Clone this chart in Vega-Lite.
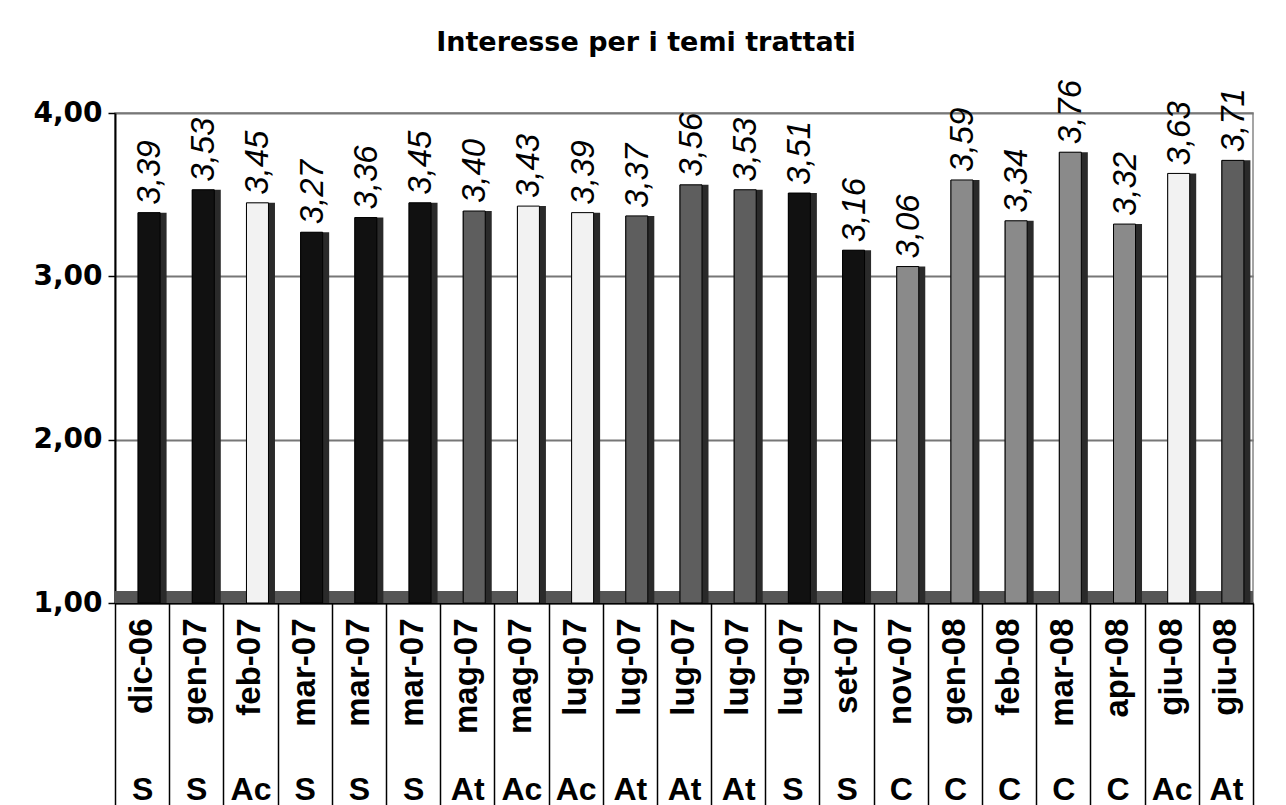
{
  "$schema": "https://vega.github.io/schema/vega-lite/v6.json",
  "autosize": "none",
  "width": 1138,
  "height": 490,
  "padding": {"left": 115, "top": 113, "right": 33, "bottom": 202},
  "background": "white",
  "title": {
    "text": "Interesse per i temi trattati",
    "font": "DejaVu Sans",
    "fontSize": 27,
    "fontWeight": "bold",
    "color": "black",
    "anchor": "middle",
    "offset": 23,
    "dx": -38
  },
  "data": {
    "values": [
      {"key": "01|dic-06|S", "tipo": "S", "valore": 3.39},
      {"key": "02|gen-07|S", "tipo": "S", "valore": 3.53},
      {"key": "03|feb-07|Ac", "tipo": "Ac", "valore": 3.45},
      {"key": "04|mar-07|S", "tipo": "S", "valore": 3.27},
      {"key": "05|mar-07|S", "tipo": "S", "valore": 3.36},
      {"key": "06|mar-07|S", "tipo": "S", "valore": 3.45},
      {"key": "07|mag-07|At", "tipo": "At", "valore": 3.40},
      {"key": "08|mag-07|Ac", "tipo": "Ac", "valore": 3.43},
      {"key": "09|lug-07|Ac", "tipo": "Ac", "valore": 3.39},
      {"key": "10|lug-07|At", "tipo": "At", "valore": 3.37},
      {"key": "11|lug-07|At", "tipo": "At", "valore": 3.56},
      {"key": "12|lug-07|At", "tipo": "At", "valore": 3.53},
      {"key": "13|lug-07|S", "tipo": "S", "valore": 3.51},
      {"key": "14|set-07|S", "tipo": "S", "valore": 3.16},
      {"key": "15|nov-07|C", "tipo": "C", "valore": 3.06},
      {"key": "16|gen-08|C", "tipo": "C", "valore": 3.59},
      {"key": "17|feb-08|C", "tipo": "C", "valore": 3.34},
      {"key": "18|mar-08|C", "tipo": "C", "valore": 3.76},
      {"key": "19|apr-08|C", "tipo": "C", "valore": 3.32},
      {"key": "20|giu-08|Ac", "tipo": "Ac", "valore": 3.63},
      {"key": "21|giu-08|At", "tipo": "At", "valore": 3.71}
    ]
  },
  "layer": [
    {
      "mark": {"type": "rule", "color": "#555555", "strokeWidth": 12, "yOffset": -6},
      "encoding": {
        "y": {"datum": 1, "type": "quantitative", "scale": {"domain": [1, 4], "nice": false, "zero": false}}
      }
    },
    {
      "mark": {"type": "bar", "color": "#2a2a2a", "size": 29, "xOffset": 10},
      "encoding": {
        "x": {"field": "key", "type": "nominal", "sort": null, "axis": null, "scale": {"paddingInner": 0, "paddingOuter": 0}},
        "y": {"field": "valore", "type": "quantitative", "scale": {"domain": [1, 4], "nice": false, "zero": false}},
        "y2": {"datum": 1}
      }
    },
    {
      "mark": {"type": "bar", "size": 22, "xOffset": 7, "stroke": "black", "strokeWidth": 1},
      "encoding": {
        "x": {
          "field": "key", "type": "nominal", "sort": null,
          "scale": {"paddingInner": 0, "paddingOuter": 0},
          "axis": {
            "orient": "bottom",
            "title": null,
            "tickBand": "extent",
            "tickSize": 202,
            "tickColor": "black",
            "tickWidth": 1.5,
            "domainColor": "black",
            "domainWidth": 2,
            "labelExpr": "split(datum.value, '|')[2]",
            "labelAngle": 0,
            "labelAlign": "center",
            "labelBaseline": "top",
            "labelPadding": -31,
            "labelFont": "Liberation Sans",
            "labelFontSize": 32,
            "labelFontWeight": "bold",
            "labelColor": "black",
            "labelOverlap": false,
            "grid": false
          }
        },
        "y": {
          "field": "valore", "type": "quantitative",
          "scale": {"domain": [1, 4], "nice": false, "zero": false},
          "axis": {
            "title": null,
            "values": [1, 2, 3, 4],
            "format": ".2f",
            "grid": true,
            "gridColor": "#777777",
            "gridWidth": 2,
            "domainColor": "black",
            "domainWidth": 2,
            "tickColor": "black",
            "tickSize": 7,
            "tickWidth": 1.5,
            "labelPadding": 6,
            "labelFont": "DejaVu Sans",
            "labelFontSize": 28,
            "labelFontWeight": "bold",
            "labelColor": "black"
          }
        },
        "y2": {"datum": 1},
        "color": {
          "field": "tipo", "type": "nominal", "legend": null,
          "scale": {"domain": ["S", "Ac", "At", "C"], "range": ["#111111", "#f2f2f2", "#5e5e5e", "#8a8a8a"]}
        }
      }
    },
    {
      "mark": {
        "type": "text", "angle": 270, "align": "left", "baseline": "middle",
        "dx": 8, "xOffset": 8,
        "font": "Liberation Sans", "fontSize": 33, "fontStyle": "italic", "color": "black"
      },
      "encoding": {
        "x": {
          "field": "key", "type": "nominal", "sort": null,
          "scale": {"paddingInner": 0, "paddingOuter": 0},
          "axis": {
            "orient": "bottom",
            "title": null,
            "ticks": false,
            "tickSize": 0,
            "domain": false,
            "grid": false,
            "labelExpr": "split(datum.value, '|')[1]",
            "labelAngle": -90,
            "labelAlign": "right",
            "labelBaseline": "middle",
            "labelPadding": 15,
            "labelFont": "Liberation Sans",
            "labelFontSize": 33,
            "labelFontWeight": "bold",
            "labelColor": "black",
            "labelOverlap": false
          }
        },
        "y": {"field": "valore", "type": "quantitative", "scale": {"domain": [1, 4], "nice": false, "zero": false}},
        "text": {"field": "valore", "type": "quantitative", "format": ".2f"}
      }
    }
  ],
  "resolve": {"axis": {"x": "independent"}},
  "config": {
    "locale": {"number": {"decimal": ",", "thousands": ".", "grouping": [3], "currency": ["", " €"]}},
    "view": {"stroke": "#888888", "strokeWidth": 1.5},
    "axisX": {"grid": false}
  }
}
